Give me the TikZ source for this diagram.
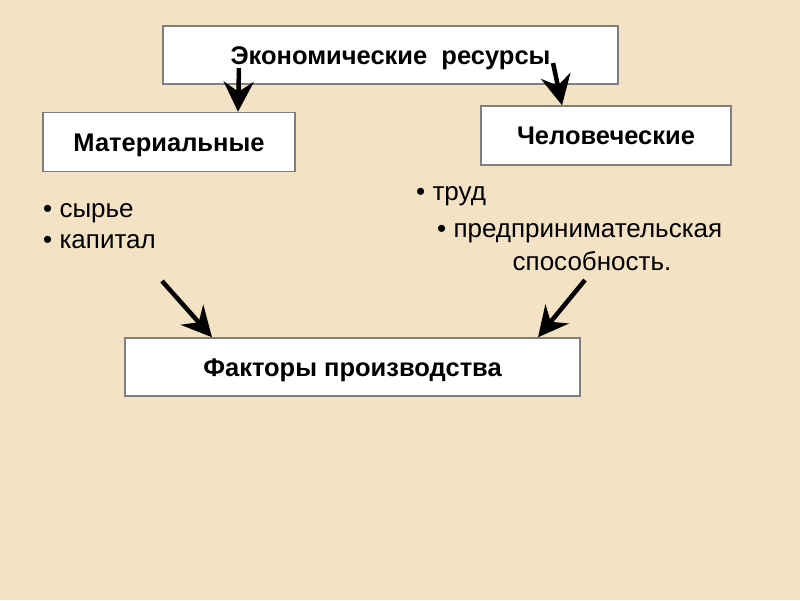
\documentclass[tikz,border=0pt]{standalone}
\usepackage{fontspec}
\setmainfont{Liberation Sans}
\usetikzlibrary{arrows.meta}
\definecolor{bg}{HTML}{F3E2C3}
\definecolor{boxline}{HTML}{7F7F7F}
\tikzset{
  box/.style={draw=boxline, line width=1.5pt, fill=white, minimum height=58pt, inner sep=0pt,
    text height=18.5pt, text depth=0pt,
    font=\fontsize{25.5}{30}\selectfont\bfseries},
  arr/.style={line width=4.5pt, -{Stealth[length=30pt,width=30pt,inset=10pt]}},
  txt/.style={font=\fontsize{26}{30}\selectfont, inner sep=0pt, anchor=base west}
}
\begin{document}
\begin{tikzpicture}[x=1pt,y=-1pt]
\fill[bg] (0,0) rectangle (800,600);
\useasboundingbox (0,0) rectangle (800,600);
\node[box, minimum width=455pt] (eco) at (390.5,55) {Экономические\ \ ресурсы};
\node[box, minimum width=252pt, minimum height=59pt] (mat) at (169,142) {Материальные};
\node[box, minimum width=250pt, minimum height=59pt] (hum) at (606,135.5) {Человеческие};
\node[box, minimum width=455pt] (fac) at (352.5,367) {Факторы производства};
\node[txt] (t1) at (43,217) {• сырье};
\node[txt] (t2) at (43,248) {• капитал};
\node[txt] (t3) at (416,200) {• труд};
\node[txt] (t4) at (437,237) {• предпринимательская};
\node[txt, anchor=base] (t5) at (592,270) {способность.};
\coordinate (a1s) at (239,68);
\coordinate (a2s) at (553,63);
\coordinate (a3s) at (162,281);
\coordinate (a4s) at (585,280);
\draw[arr] (a1s) -- (mat.north -| 238,0);
\draw[arr] (a2s) -- (hum.north -| 562,0);
\draw[arr] (a3s) -- (fac.north -| 212,0);
\draw[arr] (a4s) -- (fac.north -| 538,0);
\end{tikzpicture}
\end{document}
